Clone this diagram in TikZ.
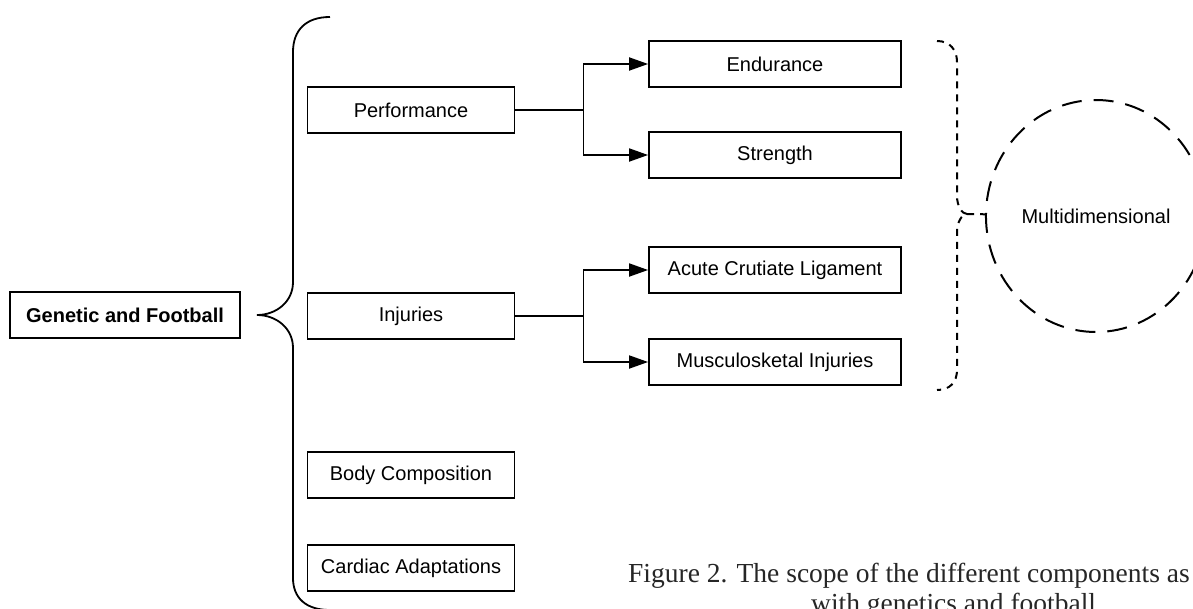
\documentclass[tikz,border=0pt]{standalone}
\usepackage{fontspec}
\setmainfont{Liberation Sans}
\newfontfamily\capfont{Liberation Serif}
\usetikzlibrary{shapes.geometric, arrows.meta, positioning}

\begin{document}
\begin{tikzpicture}[x=1pt, y=-1pt,
        box/.style={draw, line width=1.8pt, minimum height=46pt, inner sep=2pt,
            font=\fontsize{20}{24}\selectfont},
        leftbox/.style={box, minimum width=207pt},
        rightbox/.style={box, minimum width=252pt},
        arr/.style={line width=1.8pt, -{Triangle[length=19pt, width=13pt]}},
        dbrace/.style={line width=2pt, dash pattern=on 7pt off 6pt}]
        \clip (0,0) rectangle (1193,608);
        \fill[white] (0,0) rectangle (1193,608);

        \node[box, minimum width=230pt, font=\fontsize{20}{24}\selectfont\bfseries] (gen) at (125,315) {Genetic and Football};

        \foreach \name/\y/\txt in {perf/110/Performance, inj/316/Injuries,
            body/475/Body Composition, card/568/Cardiac Adaptations} {
            \node[leftbox] (\name) at (411,\y) {\txt};
        }

        \node[rightbox] (endu) at (775,64) {Endurance};
        \node[rightbox] (stre) at (775,155) {Strength};
        \node[rightbox] (acl) at (775,270) {Acute Crutiate Ligament};
        \node[rightbox] (musc) at (775,362) {Musculosketal Injuries};

        \draw[arr] (perf.east) -- ++(68,0) |- (endu);
        \draw[arr] (perf.east) -- ++(68,0) |- (stre);
        \draw[arr] (inj.east) -- ++(68,0) |- (acl);
        \draw[arr] (inj.east) -- ++(68,0) |- (musc);

        % big brace
        \draw[line width=1.8pt] (330,17) .. controls (306,17) and (293,30) .. (293,52)
            -- (293,282) .. controls (293,302) and (276,315) .. (257,315)
            .. controls (276,315) and (293,328) .. (293,348)
            -- (293,578) .. controls (293,598) and (306,610) .. (330,610);

        % dashed brace
        \coordinate (tip) at (967,214);
        \draw[dbrace] (937,41) .. controls (950,41) and (957,50) .. (957,62)
            -- (957,196) .. controls (957,206) and (962,214) .. (tip)
            .. controls (962,214) and (957,222) .. (957,232)
            -- (957,370) .. controls (957,382) and (950,390) .. (937,390);

        \node[ellipse, draw, line width=2pt, dash pattern=on 20pt off 12pt,
            minimum width=204pt, minimum height=232pt,
            font=\fontsize{20}{24}\selectfont] (multi) at (1096,216) {Multidimensional};
        \draw[dbrace] (tip) -- (multi);

        \node[anchor=base west, inner sep=0pt, text=black!85,
            font=\capfont\fontsize{27.5}{32}\selectfont] (cap1) at (628,582)
            {Figure 2. The scope of the different components as};
        \node[anchor=base west, inner sep=0pt, text=black!85,
            font=\capfont\fontsize{27.5}{32}\selectfont] (cap2) at (811,612)
            {with genetics and football};
    \end{tikzpicture}
\end{document}
